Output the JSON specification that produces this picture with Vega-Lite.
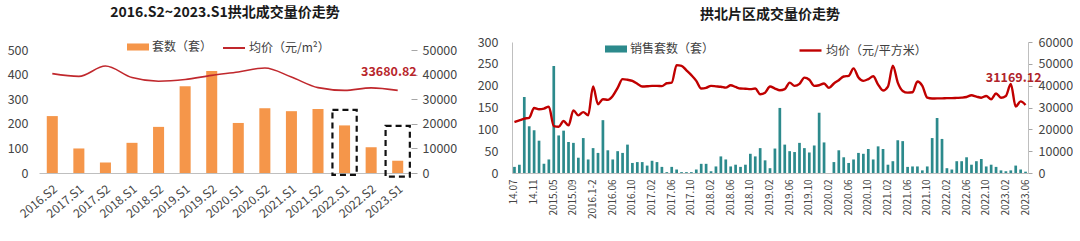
{
  "$schema": "https://vega.github.io/schema/vega-lite/v6.json",
  "padding": {"left": 7, "top": 6, "right": 0, "bottom": 0},
  "spacing": 20,
  "config": {
    "view": {"stroke": null},
    "font": "Noto Sans CJK SC",
    "axis": {"grid": false, "labelFont": "Noto Sans CJK SC", "labelColor": "#454545", "domainColor": "#BFBFBF", "tickColor": "#A6A6A6", "labelOverlap": false},
    "legend": {"labelFont": "Noto Sans CJK SC", "labelFontSize": 12, "labelColor": "#404040", "padding": 0, "labelOffset": 3},
    "title": {"font": "Noto Sans CJK SC", "fontSize": 14, "fontWeight": "bold", "color": "#1A1A1A", "anchor": "middle", "frame": "group"}
  },
  "resolve": {
    "scale": {"x": "independent", "y": "independent", "fill": "independent", "stroke": "independent"},
    "legend": {"fill": "independent", "stroke": "independent"}
  },
  "hconcat": [
    {
      "width": 372,
      "height": 131,
      "title": {"text": "2016.S2~2023.S1拱北成交量价走势", "offset": 16},
      "data": {"values": [
        {"period": "2016.S2", "n": 232, "p": 40500},
        {"period": "2017.S1", "n": 100, "p": 39400},
        {"period": "2017.S2", "n": 43, "p": 43600},
        {"period": "2018.S1", "n": 123, "p": 38900},
        {"period": "2018.S2", "n": 188, "p": 37400},
        {"period": "2019.S1", "n": 354, "p": 38100},
        {"period": "2019.S2", "n": 416, "p": 39800},
        {"period": "2020.S1", "n": 204, "p": 41200},
        {"period": "2020.S2", "n": 264, "p": 42800},
        {"period": "2021.S1", "n": 252, "p": 39100},
        {"period": "2021.S2", "n": 261, "p": 34800},
        {"period": "2022.S1", "n": 194, "p": 33700},
        {"period": "2022.S2", "n": 105, "p": 34700},
        {"period": "2023.S1", "n": 50, "p": 33680.82}
      ]},
      "layer": [
        {
          "mark": {"type": "bar"},
          "encoding": {
            "x": {"field": "period", "type": "ordinal", "sort": null,
              "scale": {"domain": ["2016.S2","2017.S1","2017.S2","2018.S1","2018.S2","2019.S1","2019.S2","2020.S1","2020.S2","2021.S1","2021.S2","2022.S1","2022.S2","2023.S1"], "paddingInner": 0.585, "paddingOuter": 0.2925},
              "axis": {"title": null, "labelAngle": -40, "labelFontSize": 12, "ticks": false, "domain": true, "labelPadding": 10, "labelOverlap": false}},
            "y": {"field": "n", "type": "quantitative", "title": null,
              "scale": {"domain": [0, 534], "nice": false},
              "axis": {"values": [0, 100, 200, 300, 400, 500], "format": "d", "labelOverlap": false, "domain": false, "ticks": false, "labelPadding": 11, "labelFontSize": 12.5}},
            "fill": {"datum": "套数（套）", "type": "nominal", "scale": {"range": ["#F5964A"]},
              "legend": {"title": null, "orient": "none", "legendX": 88, "legendY": -6, "symbolType": "M-1,-0.32H1V0.32H-1Z", "symbolSize": 484, "symbolStrokeWidth": 0}}
          }
        },
        {
          "data": {"values": [
            {"period": "2022.S1", "top": 257, "bottom": -8},
            {"period": "2023.S1", "top": 192, "bottom": -15}
          ]},
          "mark": {"type": "rect", "filled": false, "stroke": "#111111", "strokeWidth": 2.2, "strokeDash": [6, 4], "width": {"band": 2.2}},
          "encoding": {
            "x": {"field": "period", "type": "ordinal", "sort": null},
            "y": {"field": "top", "type": "quantitative", "title": null, "scale": {"domain": [0, 534], "nice": false}, "axis": null},
            "y2": {"field": "bottom"}
          }
        },
        {
          "mark": {"type": "line", "interpolate": "monotone", "strokeWidth": 1.6},
          "encoding": {
            "x": {"field": "period", "type": "ordinal", "sort": null},
            "y": {"field": "p", "type": "quantitative", "title": null,
              "scale": {"domain": [0, 53400], "nice": false},
              "axis": {"orient": "right", "values": [0, 10000, 20000, 30000, 40000, 50000], "format": "d", "labelOverlap": false, "domain": false, "ticks": true, "tickSize": 6, "labelPadding": 5, "labelFontSize": 12.5}},
            "stroke": {"datum": "均价（元/m²）", "type": "nominal", "scale": {"range": ["#C0282D"]},
              "legend": {"title": null, "orient": "none", "legendX": 183, "legendY": -6, "symbolType": "stroke", "symbolSize": 484, "symbolStrokeWidth": 2}}
          }
        },
        {
          "transform": [{"filter": "datum.period === '2023.S1'"}],
          "mark": {"type": "text", "align": "right", "baseline": "middle", "dx": 19, "dy": -18, "fontSize": 12.5, "fontWeight": "bold", "color": "#B8262C"},
          "encoding": {
            "x": {"field": "period", "type": "ordinal", "sort": null},
            "y": {"field": "p", "type": "quantitative", "scale": {"domain": [0, 53400], "nice": false}, "axis": null},
            "text": {"field": "p", "type": "quantitative", "format": ".2f"}
          }
        }
      ],
      "resolve": {"scale": {"y": "independent"}}
    },
    {
      "width": 516,
      "height": 131,
      "title": {"text": "拱北片区成交量价走势", "offset": 14},
      "data": {"values": [
        {"m": "14.07", "n": 14, "p": 23300},
        {"m": "14.08", "n": 19, "p": 24100},
        {"m": "14.09", "n": 174, "p": 24900},
        {"m": "14.10", "n": 107, "p": 25300},
        {"m": "14.11", "n": 98, "p": 29800},
        {"m": "14.12", "n": 74, "p": 29200},
        {"m": "2015.1-2", "n": 21, "p": 29500},
        {"m": "2015.03-04", "n": 31, "p": 30400},
        {"m": "2015.05", "n": 245, "p": 21500},
        {"m": "2015.06", "n": 86, "p": 21200},
        {"m": "2015.07", "n": 97, "p": 23800},
        {"m": "2015.08", "n": 71, "p": 21800},
        {"m": "2015.09", "n": 69, "p": 28700},
        {"m": "2015.10", "n": 35, "p": 26400},
        {"m": "2015.11", "n": 80, "p": 27900},
        {"m": "2015.12", "n": 31, "p": 26400},
        {"m": "2016.1-2", "n": 57, "p": 39600},
        {"m": "2016.03", "n": 46, "p": 31500},
        {"m": "2016.04", "n": 121, "p": 33800},
        {"m": "2016.05", "n": 52, "p": 33500},
        {"m": "2016.06", "n": 31, "p": 35300},
        {"m": "2016.07", "n": 50, "p": 39000},
        {"m": "2016.08", "n": 46, "p": 43000},
        {"m": "2016.09", "n": 65, "p": 42700},
        {"m": "2016.10", "n": 23, "p": 42200},
        {"m": "2016.11", "n": 25, "p": 40900},
        {"m": "2016.12", "n": 25, "p": 39600},
        {"m": "2017.01", "n": 17, "p": 39700},
        {"m": "2017.02", "n": 28, "p": 39900},
        {"m": "2017.03", "n": 25, "p": 39900},
        {"m": "2017.04", "n": 14, "p": 39800},
        {"m": "2017.05", "n": 2, "p": 41100},
        {"m": "2017.06", "n": 14, "p": 41400},
        {"m": "2017.07", "n": 8, "p": 49400},
        {"m": "2017.08", "n": 2, "p": 49100},
        {"m": "2017.09", "n": 2, "p": 47000},
        {"m": "2017.10", "n": 2, "p": 44800},
        {"m": "2017.11", "n": 8, "p": 42200},
        {"m": "2017.12", "n": 21, "p": 38700},
        {"m": "2018.01", "n": 21, "p": 39000},
        {"m": "2018.02", "n": 4, "p": 39900},
        {"m": "2018.03", "n": 15, "p": 39700},
        {"m": "2018.04", "n": 38, "p": 39500},
        {"m": "2018.05", "n": 31, "p": 39100},
        {"m": "2018.06", "n": 15, "p": 40200},
        {"m": "2018.07", "n": 19, "p": 39400},
        {"m": "2018.08", "n": 14, "p": 38700},
        {"m": "2018.09", "n": 19, "p": 38600},
        {"m": "2018.10", "n": 44, "p": 38400},
        {"m": "2018.11", "n": 38, "p": 38700},
        {"m": "2018.12", "n": 57, "p": 36100},
        {"m": "2019.01", "n": 29, "p": 36800},
        {"m": "2019.02", "n": 11, "p": 39600},
        {"m": "2019.03", "n": 56, "p": 38700},
        {"m": "2019.04", "n": 149, "p": 37900},
        {"m": "2019.05", "n": 65, "p": 38400},
        {"m": "2019.06", "n": 50, "p": 41400},
        {"m": "2019.07", "n": 48, "p": 39900},
        {"m": "2019.08", "n": 69, "p": 40800},
        {"m": "2019.09", "n": 57, "p": 43700},
        {"m": "2019.10", "n": 47, "p": 42700},
        {"m": "2019.11", "n": 63, "p": 39900},
        {"m": "2019.12", "n": 138, "p": 40200},
        {"m": "2020.01", "n": 70, "p": 41000},
        {"m": "2020.02", "n": 0, "p": 39000},
        {"m": "2020.03", "n": 25, "p": 41000},
        {"m": "2020.04", "n": 52, "p": 42500},
        {"m": "2020.05", "n": 36, "p": 44200},
        {"m": "2020.06", "n": 23, "p": 44500},
        {"m": "2020.07", "n": 31, "p": 47900},
        {"m": "2020.08", "n": 46, "p": 43700},
        {"m": "2020.09", "n": 44, "p": 42200},
        {"m": "2020.10", "n": 55, "p": 43000},
        {"m": "2020.11", "n": 31, "p": 44300},
        {"m": "2020.12", "n": 61, "p": 40500},
        {"m": "2021.01", "n": 55, "p": 37800},
        {"m": "2021.02", "n": 19, "p": 39600},
        {"m": "2021.03", "n": 27, "p": 49100},
        {"m": "2021.04", "n": 75, "p": 41400},
        {"m": "2021.05", "n": 73, "p": 37600},
        {"m": "2021.06", "n": 14, "p": 36800},
        {"m": "2021.07", "n": 15, "p": 37000},
        {"m": "2021.08", "n": 15, "p": 41900},
        {"m": "2021.09", "n": 6, "p": 39900},
        {"m": "2021.10", "n": 15, "p": 34500},
        {"m": "2021.11", "n": 80, "p": 34100},
        {"m": "2021.12", "n": 126, "p": 34200},
        {"m": "2022.01", "n": 78, "p": 34200},
        {"m": "2022.02", "n": 11, "p": 34300},
        {"m": "2022.03", "n": 8, "p": 34300},
        {"m": "2022.04", "n": 27, "p": 34400},
        {"m": "2022.05", "n": 27, "p": 34500},
        {"m": "2022.06", "n": 36, "p": 34800},
        {"m": "2022.07", "n": 19, "p": 35600},
        {"m": "2022.08", "n": 27, "p": 35000},
        {"m": "2022.09", "n": 32, "p": 34500},
        {"m": "2022.10", "n": 15, "p": 35300},
        {"m": "2022.11", "n": 19, "p": 33800},
        {"m": "2022.12", "n": 14, "p": 36400},
        {"m": "2023.01", "n": 6, "p": 34500},
        {"m": "2023.02", "n": 4, "p": 35300},
        {"m": "2023.03", "n": 6, "p": 40800},
        {"m": "2023.04", "n": 17, "p": 30400},
        {"m": "2023.05", "n": 8, "p": 32800},
        {"m": "2023.06", "n": 3, "p": 31169.12}
      ]},
      "layer": [
        {
          "mark": {"type": "bar"},
          "encoding": {
            "x": {"field": "m", "type": "ordinal", "sort": null,
              "scale": {"paddingInner": 0.45, "paddingOuter": 0.225},
              "axis": {"title": null, "labelAngle": -90, "labelFontSize": 10, "ticks": false, "domain": true, "labelPadding": 6, "labelOverlap": false,
                "values": ["14.07","14.11","2015.05","2015.09","2016.1-2","2016.06","2016.10","2017.02","2017.06","2017.10","2018.02","2018.06","2018.10","2019.02","2019.06","2019.10","2020.02","2020.06","2020.10","2021.02","2021.06","2021.10","2022.02","2022.06","2022.10","2023.02","2023.06"]}},
            "y": {"field": "n", "type": "quantitative", "title": null,
              "scale": {"domain": [0, 300], "nice": false},
              "axis": {"values": [0, 50, 100, 150, 200, 250, 300], "format": "d", "labelOverlap": false, "domain": true, "ticks": false, "labelPadding": 14, "labelFontSize": 12.5}},
            "fill": {"datum": "销售套数（套）", "type": "nominal", "scale": {"range": ["#2C8A8C"]},
              "legend": {"title": null, "orient": "none", "legendX": 93, "legendY": -4, "symbolType": "M-1,-0.32H1V0.32H-1Z", "symbolSize": 484, "symbolStrokeWidth": 0}}
          }
        },
        {
          "mark": {"type": "line", "interpolate": "monotone", "strokeWidth": 2.4},
          "encoding": {
            "x": {"field": "m", "type": "ordinal", "sort": null},
            "y": {"field": "p", "type": "quantitative", "title": null,
              "scale": {"domain": [0, 60000], "nice": false},
              "axis": {"orient": "right", "values": [0, 10000, 20000, 30000, 40000, 50000, 60000], "format": "d", "labelOverlap": false, "domain": true, "ticks": true, "tickSize": 4, "labelPadding": 6, "labelFontSize": 12.5}},
            "stroke": {"datum": "均价（元/平方米）", "type": "nominal", "scale": {"range": ["#C00000"]},
              "legend": {"title": null, "orient": "none", "legendX": 286, "legendY": -4, "symbolType": "stroke", "symbolSize": 484, "symbolStrokeWidth": 2.4}}
          }
        },
        {
          "transform": [{"filter": "datum.m === '2023.06'"}],
          "mark": {"type": "text", "align": "right", "baseline": "middle", "dx": 16, "dy": -27, "fontSize": 12.5, "fontWeight": "bold", "color": "#B0242A"},
          "encoding": {
            "x": {"field": "m", "type": "ordinal", "sort": null},
            "y": {"field": "p", "type": "quantitative", "scale": {"domain": [0, 60000], "nice": false}, "axis": null},
            "text": {"field": "p", "type": "quantitative", "format": ".2f"}
          }
        }
      ],
      "resolve": {"scale": {"y": "independent"}}
    }
  ]
}
